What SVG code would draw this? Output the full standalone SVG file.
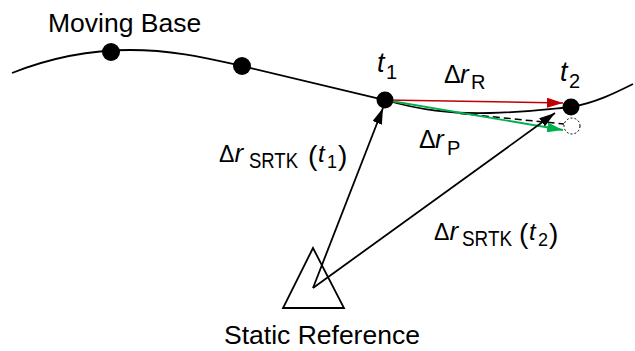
<svg xmlns="http://www.w3.org/2000/svg" width="635" height="351" viewBox="0 0 635 351">
  <style>
    .lbl { font-family: "Liberation Sans", Arial, sans-serif; fill: #000; }
    .it { font-style: italic; }
    .dot { fill: #000; }
    .ln { fill: none; stroke: #000; stroke-width: 1.8; }
  </style>
  <defs>
    <marker id="ahK" viewBox="0 0 16 10" refX="16" refY="5" markerWidth="16" markerHeight="10" markerUnits="userSpaceOnUse" orient="auto">
      <path d="M0,0 L16,5 L0,10 Z" fill="#000"/>
    </marker>
    <marker id="ahR" viewBox="0 0 16 10" refX="16" refY="5" markerWidth="16" markerHeight="10" markerUnits="userSpaceOnUse" orient="auto">
      <path d="M0,0 L16,5 L0,10 Z" fill="#C00000"/>
    </marker>
    <marker id="ahG" viewBox="0 0 16 10" refX="16" refY="5" markerWidth="16" markerHeight="10" markerUnits="userSpaceOnUse" orient="auto">
      <path d="M0,0 L16,5 L0,10 Z" fill="#00B050"/>
    </marker>
  </defs>

  <g id="trajectory">
    <path class="ln" d="M12,73 Q70,50 130,50 C175,50 210,59 242,66 L385,100 C420,110 450,114 490,113 C530,112 550,109 571,107 C595,103 615,93 633,84"/>
  </g>

  <g id="connectors">
    <line x1="385" y1="100" x2="563" y2="103" stroke="#C00000" stroke-width="1.5" marker-end="url(#ahR)"/>
    <line x1="460" y1="113.5" x2="564" y2="124" stroke="#000" stroke-width="1.5" stroke-dasharray="7,4"/>
    <line x1="385" y1="100" x2="563" y2="130" stroke="#00B050" stroke-width="1.8" marker-end="url(#ahG)"/>
    <line x1="313" y1="288" x2="383" y2="108" stroke="#000" stroke-width="1.8" marker-end="url(#ahK)"/>
    <line x1="313" y1="288" x2="555" y2="113" stroke="#000" stroke-width="1.8" marker-end="url(#ahK)"/>
  </g>

  <g id="moving-base">
    <text class="lbl" x="48" y="32" font-size="26.5">Moving Base</text>
  </g>
  <g id="p0"><circle class="dot" cx="111" cy="52" r="9"/></g>
  <g id="p1"><circle class="dot" cx="242" cy="66" r="9"/></g>
  <g id="t1">
    <circle class="dot" cx="385" cy="100" r="8.5"/>
    <text class="lbl it" x="377" y="72" font-size="27">t</text>
    <text class="lbl" x="386" y="79" font-size="20">1</text>
  </g>
  <g id="t2">
    <circle class="dot" cx="571" cy="107" r="8.5"/>
    <text class="lbl it" x="560" y="81" font-size="27">t</text>
    <text class="lbl" x="569" y="88" font-size="20">2</text>
  </g>
  <g id="predicted">
    <circle cx="572" cy="126" r="8" fill="#fff" stroke="#000" stroke-width="1" stroke-dasharray="2,2"/>
  </g>

  <g id="label-dr-R">
    <text class="lbl" x="444" y="83" font-size="25">Δ</text>
    <text class="lbl it" x="460" y="83" font-size="26">r</text>
    <text class="lbl" x="471" y="89" font-size="20">R</text>
  </g>
  <g id="label-dr-P">
    <text class="lbl" x="419" y="148" font-size="25">Δ</text>
    <text class="lbl it" x="435" y="148" font-size="26">r</text>
    <text class="lbl" x="447" y="155" font-size="20">P</text>
  </g>
  <g id="label-srtk1">
    <text class="lbl" x="219" y="162" font-size="23">Δ</text>
    <text class="lbl it" x="234.5" y="162" font-size="26">r</text>
    <text class="lbl" x="249" y="168" font-size="22" textLength="49" lengthAdjust="spacingAndGlyphs">SRTK</text>
    <text class="lbl" x="308" y="165" font-size="28">(</text>
    <text class="lbl it" x="318" y="162" font-size="24">t</text>
    <text class="lbl" x="327" y="168" font-size="18">1</text>
    <text class="lbl" x="338" y="165" font-size="28">)</text>
  </g>
  <g id="label-srtk2">
    <text class="lbl" x="434" y="240" font-size="23">Δ</text>
    <text class="lbl it" x="449.5" y="240" font-size="26">r</text>
    <text class="lbl" x="462" y="246" font-size="22" textLength="50" lengthAdjust="spacingAndGlyphs">SRTK</text>
    <text class="lbl" x="519" y="243" font-size="28">(</text>
    <text class="lbl it" x="529" y="240" font-size="24">t</text>
    <text class="lbl" x="538" y="246" font-size="18">2</text>
    <text class="lbl" x="549" y="243" font-size="28">)</text>
  </g>

  <g id="static-reference">
    <polygon points="313,248 283,308 344,308" fill="none" stroke="#000" stroke-width="1.8"/>
    <text class="lbl" x="224" y="344" font-size="26.5">Static Reference</text>
  </g>
</svg>
